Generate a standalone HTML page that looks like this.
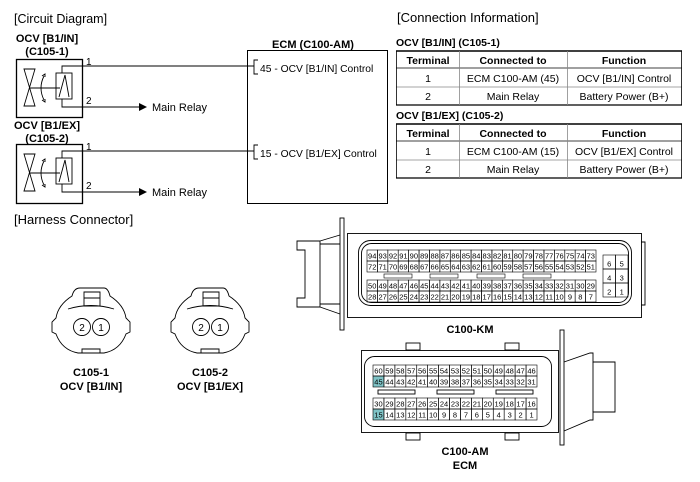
<!DOCTYPE html>
<html><head><meta charset="utf-8"><style>
html,body{margin:0;padding:0;background:#fff;}
svg{display:block;font-family:"Liberation Sans",Arial,sans-serif;}
</style></head><body>
<svg width="700" height="482" viewBox="0 0 700 482" xmlns="http://www.w3.org/2000/svg">
<g fill="#000">
<text x="14" y="23" font-size="12.5">[Circuit Diagram]</text>
<text x="47" y="42" font-size="11" font-weight="bold" text-anchor="middle">OCV [B1/IN]</text>
<text x="47" y="55" font-size="11" font-weight="bold" text-anchor="middle">(C105-1)</text>
<text x="47" y="129" font-size="11" font-weight="bold" text-anchor="middle">OCV [B1/EX]</text>
<text x="47" y="142" font-size="11" font-weight="bold" text-anchor="middle">(C105-2)</text>
<text x="313" y="48" font-size="11" font-weight="bold" text-anchor="middle">ECM (C100-AM)</text>
</g>
<g fill="none" stroke="#000" stroke-width="1">
<rect x="16.5" y="59.5" width="66" height="58" stroke-width="1.3"/>
<rect x="16.5" y="144.5" width="66" height="59" stroke-width="1.3"/>
<rect x="247.5" y="50.5" width="140" height="153"/>
</g>
<g fill="none" stroke="#000" stroke-width="0.9">
<path d="M24 69 L35 69 L24 106 L35 106 Z"/>
<path d="M29.5 88 L60 88"/>
<path d="M44 76 Q38 88 44 100"/>
<path d="M42 76 l3 -2 l0 3" />
<path d="M42 100 l3 2 l0 -3"/>
<rect x="56" y="73" width="16" height="26"/>
<path d="M59 97 L65 75 L69 97"/>
<path d="M62 73 L62 66 L254 66"/>
<path d="M62 99 L62 107 L140 107"/>
</g>
<g transform="translate(0,85)" fill="none" stroke="#000" stroke-width="0.9">
<path d="M24 69 L35 69 L24 106 L35 106 Z"/>
<path d="M29.5 88 L60 88"/>
<path d="M44 76 Q38 88 44 100"/>
<path d="M42 76 l3 -2 l0 3" />
<path d="M42 100 l3 2 l0 -3"/>
<rect x="56" y="73" width="16" height="26"/>
<path d="M59 97 L65 75 L69 97"/>
<path d="M62 73 L62 66 L254 66"/>
<path d="M62 99 L62 107 L140 107"/>
</g>
<g fill="#000" font-size="10">
<polygon points="139,103 147,107 139,111"/>
<polygon points="139,188 147,192 139,196"/>
<text x="86" y="65">1</text><text x="86" y="104">2</text>
<text x="86" y="150">1</text><text x="86" y="189">2</text>
<text x="152" y="111" font-size="11">Main Relay</text>
<text x="152" y="196" font-size="11">Main Relay</text>
<text x="260" y="72" font-size="10.3">45 - OCV [B1/IN] Control</text>
<text x="260" y="157" font-size="10.3">15 - OCV [B1/EX] Control</text>
</g>
<g fill="none" stroke="#000" stroke-width="0.9">
<path d="M258 60 L254 60 L254 74 L258 74"/>
<path d="M258 145 L254 145 L254 159 L258 159"/>
</g>
<g fill="#000">
<text x="397" y="22" font-size="13">[Connection Information]</text>
<text x="396" y="46" font-size="10.5" font-weight="bold">OCV [B1/IN] (C105-1)</text>
<text x="396" y="119" font-size="10.5" font-weight="bold">OCV [B1/EX] (C105-2)</text>
</g>
<g id="t1">
<g fill="none" stroke="#000" stroke-width="0.8">
<line x1="396" y1="51" x2="682" y2="51" stroke-width="1.5"/>
<line x1="396" y1="68" x2="682" y2="68"/>
<line x1="396" y1="87" x2="682" y2="87" stroke="#888"/>
<line x1="396" y1="105" x2="682" y2="105" stroke-width="1.3"/>
<line x1="396.5" y1="51" x2="396.5" y2="105"/>
<line x1="459.5" y1="51" x2="459.5" y2="105" stroke="#888"/>
<line x1="567.5" y1="51" x2="567.5" y2="105" stroke="#888"/>
<line x1="681.5" y1="51" x2="681.5" y2="105"/>
</g>
</g>
<use href="#t1" transform="translate(0,73)"/>
<g font-size="10.5" text-anchor="middle" fill="#000">
<text x="428" y="64" font-weight="bold">Terminal</text>
<text x="513" y="64" font-weight="bold">Connected to</text>
<text x="624" y="64" font-weight="bold">Function</text>
<text x="428" y="82">1</text><text x="513" y="82">ECM C100-AM (45)</text><text x="624" y="82">OCV [B1/IN] Control</text>
<text x="428" y="100">2</text><text x="513" y="100">Main Relay</text><text x="624" y="100">Battery Power (B+)</text>
<text x="428" y="137" font-weight="bold">Terminal</text>
<text x="513" y="137" font-weight="bold">Connected to</text>
<text x="624" y="137" font-weight="bold">Function</text>
<text x="428" y="155">1</text><text x="513" y="155">ECM C100-AM (15)</text><text x="624" y="155">OCV [B1/EX] Control</text>
<text x="428" y="173">2</text><text x="513" y="173">Main Relay</text><text x="624" y="173">Battery Power (B+)</text>
</g>
<text x="14" y="224" font-size="13">[Harness Connector]</text>
<g id="c105" fill="none" stroke="#000" stroke-width="0.9">
<path d="M80 288 L104 288 Q108 288 110 296 Q124 305 126 318 L130 322 L130 332 L126 334 Q120 350 104 353 L78 353 Q62 350 56 334 L52 332 L52 322 L56 318 Q58 305 72 296 Q74 288 80 288 Z"/>
<path d="M84 292 L100 292 L100 306 L84 306 Z M84 298 L100 298"/>
<path d="M68 309 Q91 302 114 309"/>
<circle cx="82" cy="327" r="8.5"/><circle cx="101" cy="327" r="8.5"/>
<path d="M82 353 L82 349 L100 349 L100 353"/>
</g>
<use href="#c105" transform="translate(119,0)"/>
<g font-size="10" text-anchor="middle">
<text x="82" y="331">2</text><text x="101" y="331">1</text>
<text x="201" y="331">2</text><text x="220" y="331">1</text>
</g>
<g font-size="11" font-weight="bold" text-anchor="middle">
<text x="91" y="376">C105-1</text><text x="91" y="390">OCV [B1/IN]</text>
<text x="210" y="376">C105-2</text><text x="210" y="390">OCV [B1/EX]</text>
</g>
<g fill="none" stroke="#000" stroke-width="0.9">
<rect x="340" y="218" width="4" height="112"/>
<path d="M320 241 L297 241 L297 250 L305 250 L305 298 L297 298 L297 307 L320 307"/>
<path d="M320 241 L340 235 M320 307 L340 314 M320 241 L320 307 M320 244 L340 244 M320 304 L340 304"/>
<rect x="347.5" y="233.5" width="294" height="84"/>
<path d="M641 242 L645 242 L645 305 L641 305"/>
<rect x="358.5" y="240.5" width="273" height="65" rx="12"/>
<rect x="361.5" y="243.5" width="267" height="59" rx="10"/>
</g>
<g fill="none" stroke="#000" stroke-width="0.9">
<rect x="361.5" y="350.5" width="197" height="82"/>
<rect x="364.5" y="356.5" width="187" height="70" rx="10"/>
<rect x="406" y="343" width="14" height="7"/><rect x="505" y="343" width="14" height="7"/>
<rect x="406" y="433" width="14" height="7"/><rect x="505" y="433" width="14" height="7"/>
<rect x="560" y="330" width="4" height="115"/>
<path d="M564 362 L590 353 L593 353 L593 362 L615 362 L615 412 L593 412 L593 420 L590 420 L564 431"/>
<path d="M593 362 L593 412"/>
<rect x="378" y="390" width="37" height="4"/><rect x="437" y="390" width="37" height="4"/><rect x="496" y="390" width="37" height="4"/>
</g>
<rect x="373" y="376" width="11" height="11" fill="#7fc3c6"/>
<rect x="373" y="409" width="11" height="11" fill="#7fc3c6"/>
<g font-size="11" font-weight="bold" text-anchor="middle">
<text x="470" y="333">C100-KM</text>
<text x="465" y="455">C100-AM</text>
<text x="465" y="469">ECM</text>
</g>
<g id="grids" stroke="#000" stroke-width="0.6" fill="none" font-size="7.5"></g>
<script>
var ns="http://www.w3.org/2000/svg",g=document.getElementById('grids');
function cell(x,y,w,h,t){var r=document.createElementNS(ns,'rect');r.setAttribute('x',x);r.setAttribute('y',y);r.setAttribute('width',w);r.setAttribute('height',h);g.appendChild(r);
var s=document.createElementNS(ns,'text');s.setAttribute('x',x+w/2);s.setAttribute('y',y+h-2.5);s.setAttribute('text-anchor','middle');s.setAttribute('fill','#000');s.setAttribute('stroke','none');s.textContent=t;g.appendChild(s);}
var kw=229/22;
for(var i=0;i<22;i++){cell(367+i*kw,250,kw,11,94-i);cell(367+i*kw,261,kw,11,72-i);cell(367+i*kw,280,kw,11,50-i);cell(367+i*kw,291,kw,11,28-i);}
var kb=[[6,5],[4,3],[2,1]];for(var r=0;r<3;r++)for(var c=0;c<2;c++)cell(603+c*12.5,255+r*14,12.5,14,kb[r][c]);
[[384,28],[430,28],[477,28],[523,28]].forEach(function(b){var r=document.createElementNS(ns,'rect');r.setAttribute('x',b[0]);r.setAttribute('y',274);r.setAttribute('width',b[1]);r.setAttribute('height',4);g.appendChild(r);});
var aw=164/15;
for(var i=0;i<15;i++){cell(373+i*aw,365,aw,11,60-i);cell(373+i*aw,376,aw,11,45-i);cell(373+i*aw,398,aw,11,30-i);cell(373+i*aw,409,aw,11,15-i);}
</script>
</svg>
</body></html>
